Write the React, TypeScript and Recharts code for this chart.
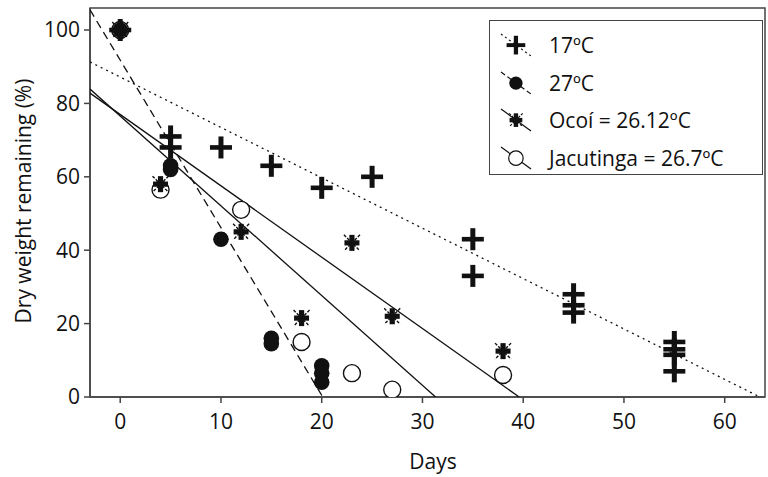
import { ScatterChart, Scatter, XAxis, YAxis, ReferenceArea } from 'recharts';

// 17 ºC litter bags
const DAYS_17 = [0, 5, 5, 10, 15, 20, 25, 35, 35, 45, 45, 45, 55, 55, 55, 55];
const DW_17 = [100, 71, 68, 68, 63, 57, 60, 43, 33, 28, 25, 23, 15, 13, 11.5, 7];

// 27 ºC
const DAYS_27 = [0, 5, 5, 10, 15, 15, 20, 20, 20];
const DW_27 = [100, 63, 62, 43, 16, 14.5, 8.5, 6.5, 4];

// Ocoí field site
const DAYS_OCOI = [0, 4, 12, 18, 23, 27, 38];
const DW_OCOI = [100, 58, 45, 21.5, 42, 22, 12.5];

// Jacutinga field site
const DAYS_JAC = [0, 4, 12, 18, 23, 27, 38];
const DW_JAC = [100, 56.5, 51, 15, 6.5, 2, 6];

// regression lines, end points
const FIT_17_X = [-3, 63.5];
const FIT_17_Y = [91.3, 0];
const FIT_27_X = [-3, 20.1];
const FIT_27_Y = [105.5, 0];
const FIT_OCOI_X = [-3, 39.6];
const FIT_OCOI_Y = [82.8, 0];
const FIT_JAC_X = [-3, 31.3];
const FIT_JAC_Y = [83.9, 0];

const X_TICKS = [0, 10, 20, 30, 40, 50, 60];
const Y_TICKS = [0, 20, 40, 60, 80, 100];

const LEGEND_LABELS = ['17ºC', '27ºC', 'Ocoí = 26.12ºC', 'Jacutinga = 26.7ºC'];

const FONT = '"Open Sans", sans-serif';
const INK = '#111';
const AXIS = '#444';

const toPoints = (xs: number[], ys: number[]) => xs.map((x, i) => ({ x, y: ys[i] }));

const PlusMark = ({ cx, cy }: any) => (
  <g fill={INK}>
    <rect x={cx - 11} y={cy - 2.3} width={22} height={4.6} />
    <rect x={cx - 2.5} y={cy - 11} width={5} height={22} />
  </g>
);

const FilledDot = ({ cx, cy }: any) => <circle cx={cx} cy={cy} r={7.8} fill={INK} />;

const OpenDot = ({ cx, cy }: any) => (
  <circle cx={cx} cy={cy} r={8.5} fill="#fff" stroke={INK} strokeWidth={1.4} />
);

const StarMark = ({ cx, cy }: any) => (
  <g>
    <line x1={cx - 8} y1={cy - 8} x2={cx + 8} y2={cy + 8} stroke={INK} strokeWidth={1.4} strokeDasharray="3 1.5" />
    <line x1={cx + 8} y1={cy - 8} x2={cx - 8} y2={cy + 8} stroke={INK} strokeWidth={1.4} strokeDasharray="3 1.5" />
    <rect x={cx - 7.5} y={cy - 2.6} width={15} height={5.2} fill={INK} />
    <rect x={cx - 2.6} y={cy - 8} width={5.2} height={16} fill={INK} />
  </g>
);

const NoMark = () => <g />;

const legendIcons = [
  { mark: PlusMark, dash: '2 3' },
  { mark: FilledDot, dash: '5 3' },
  { mark: StarMark, dash: undefined },
  { mark: OpenDot, dash: undefined },
];

const ChartLegend = () => (
  <div
    style={{
      position: 'absolute',
      left: 489,
      top: 20,
      width: 274,
      height: 155,
      border: `1.5px solid ${AXIS}`,
      boxSizing: 'border-box',
      background: '#fff',
      fontFamily: FONT,
      fontSize: 21,
      color: INK,
    }}
  >
    {LEGEND_LABELS.map((label, i) => {
      const Icon = legendIcons[i].mark;
      return (
        <div key={label} style={{ position: 'absolute', left: 0, top: 5 + i * 37.5, height: 38, display: 'flex', alignItems: 'center' }}>
          <svg width={56} height={38} style={{ display: 'block' }}>
            <line x1={11} y1={8} x2={41} y2={30} stroke={INK} strokeWidth={1.2} strokeDasharray={legendIcons[i].dash} />
            <g transform="scale(0.85) translate(4.5 3.5)">
              <Icon cx={26} cy={19} />
            </g>
          </svg>
          <span style={{ marginLeft: 3, whiteSpace: 'nowrap' }}>{label}</span>
        </div>
      );
    })}
  </div>
);

const App = () => {
  const tickStyle = { fontSize: 21, fill: INK, fontFamily: FONT };
  return (
    <div style={{ position: 'absolute', left: 0, top: 0, width: 768, height: 477, background: '#fff' }}>
      <ScatterChart width={768} height={477} margin={{ top: 8, right: 3, bottom: 0, left: 0 }}>
        <XAxis
          type="number"
          dataKey="x"
          domain={[-3, 64]}
          ticks={X_TICKS}
          allowDataOverflow
          height={80}
          stroke={AXIS}
          strokeWidth={1.5}
          tickSize={6}
          tickMargin={11}
          tick={tickStyle}
          label={{
            content: () => (
              <text x={433} y={461} textAnchor="middle" dominantBaseline="central" fontSize={21} fontFamily={FONT} fill={INK}>
                Days
              </text>
            ),
          }}
        />
        <YAxis
          type="number"
          dataKey="y"
          domain={[0, 106]}
          ticks={Y_TICKS}
          allowDataOverflow
          width={90}
          stroke={AXIS}
          strokeWidth={1.5}
          tickSize={6}
          tickMargin={4}
          tick={tickStyle}
          label={{
            content: () => (
              <text
                x={23}
                y={201}
                transform="rotate(-90 23 201)"
                textAnchor="middle"
                dominantBaseline="central"
                fontSize={21}
                fontFamily={FONT}
                fill={INK}
              >
                Dry weight remaining (%)
              </text>
            ),
          }}
        />
        <ReferenceArea x1={-3} x2={64} y1={0} y2={106} fill="none" stroke={AXIS} strokeWidth={1.5} />

        <Scatter data={toPoints(FIT_17_X, FIT_17_Y)} line={{ stroke: INK, strokeWidth: 1.3, strokeDasharray: '2 4' }} shape={NoMark} isAnimationActive={false} />
        <Scatter data={toPoints(FIT_27_X, FIT_27_Y)} line={{ stroke: INK, strokeWidth: 1.3, strokeDasharray: '8 5' }} shape={NoMark} isAnimationActive={false} />
        <Scatter data={toPoints(FIT_OCOI_X, FIT_OCOI_Y)} line={{ stroke: INK, strokeWidth: 1.3 }} shape={NoMark} isAnimationActive={false} />
        <Scatter data={toPoints(FIT_JAC_X, FIT_JAC_Y)} line={{ stroke: INK, strokeWidth: 1.3 }} shape={NoMark} isAnimationActive={false} />

        <Scatter data={toPoints(DAYS_JAC, DW_JAC)} shape={OpenDot} isAnimationActive={false} />
        <Scatter data={toPoints(DAYS_OCOI, DW_OCOI)} shape={StarMark} isAnimationActive={false} />
        <Scatter data={toPoints(DAYS_27, DW_27)} shape={FilledDot} isAnimationActive={false} />
        <Scatter data={toPoints(DAYS_17, DW_17)} shape={PlusMark} isAnimationActive={false} />
      </ScatterChart>
      <ChartLegend />
    </div>
  );
};

export default App;
